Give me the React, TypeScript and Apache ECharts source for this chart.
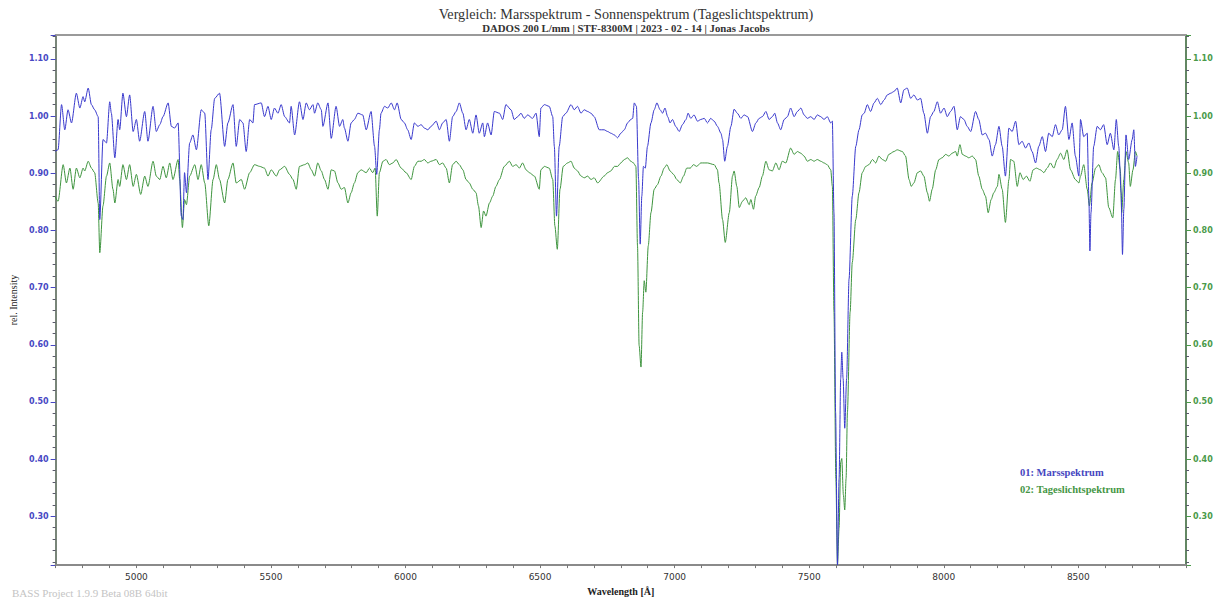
import React, { useEffect, useRef } from 'react';
import * as echarts from 'echarts';

const chartTitle = 'Vergleich: Marsspektrum - Sonnenspektrum (Tageslichtspektrum)';
const chartSubtitle = 'DADOS 200 L/mm | STF-8300M | 2023 - 02 - 14 | Jonas Jacobs';
const seriesNames = ['01: Marsspektrum', '02: Tageslichtspektrum'];
const xAxisName = 'Wavelength [Å]';
const yAxisName = 'rel. Intensity';
const footerText = 'BASS Project 1.9.9 Beta 08B 64bit';
const xRange = [4700, 8900];
const yRange = [0.2146, 1.1418];

// [wavelength (Å), relative intensity]
const marsSpectrum: [number, number][] = [
  [4697,0.938],[4709,0.941],[4722,1.020],[4734,0.976],[4746,1.011],[4759,0.988],[4777,1.040],[4790,1.014],[4802,1.034],[4808,1.025],
  [4821,1.049],[4833,1.020],[4845,1.011],[4858,0.999],[4864,0.819],[4876,0.959],[4889,0.953],[4901,1.025],[4907,1.005],[4920,0.927],
  [4932,0.994],[4938,0.976],[4950,1.040],[4963,0.999],[4975,1.037],[4988,0.973],[5000,0.994],[5012,0.956],[5031,1.008],[5043,0.956],
  [5062,1.017],[5074,0.973],[5087,0.985],[5099,0.999],[5118,1.023],[5130,0.982],[5142,0.979],[5155,0.988],[5167,0.825],[5173,0.819],
  [5179,0.901],[5186,0.866],[5198,0.953],[5210,0.967],[5223,0.941],[5241,1.011],[5254,1.005],[5266,0.889],[5278,0.976],[5291,1.031],
  [5309,1.040],[5328,0.947],[5340,0.988],[5359,1.020],[5371,0.947],[5384,0.994],[5396,0.988],[5408,0.938],[5421,0.994],[5433,0.988],
  [5439,1.020],[5464,1.023],[5476,0.999],[5489,1.017],[5501,0.994],[5513,1.014],[5526,1.005],[5538,1.020],[5551,0.999],[5569,0.988],
  [5575,1.017],[5588,0.967],[5606,1.025],[5619,0.994],[5631,1.023],[5643,1.011],[5656,1.020],[5662,1.005],[5674,1.023],[5687,1.011],
  [5693,0.982],[5712,1.023],[5724,0.961],
  [5742,1.017],[5755,0.982],[5767,0.994],[5773,0.979],[5786,0.956],[5798,0.988],[5810,0.994],[5823,1.005],[5841,1.002],[5854,0.976],
  [5872,1.008],[5885,0.947],[5893,0.898],[5903,0.976],[5909,1.005],[5922,1.017],[5934,1.014],[5947,1.023],[5959,1.011],[5969,1.023],
  [5984,0.994],[5996,0.988],[6008,0.976],[6021,0.959],[6033,0.988],[6046,0.982],[6058,0.985],[6070,0.979],[6083,0.976],[6095,0.982],
  [6114,0.991],[6126,0.976],[6138,0.988],[6151,0.994],[6163,0.956],[6175,0.999],[6188,1.008],[6200,1.023],[6213,1.005],[6225,0.976],
  [6237,0.994],[6250,0.970],[6262,1.002],[6274,0.970],[6287,0.988],[6293,0.964],[6305,0.988],[6318,0.967],[6330,1.008],[6349,1.005],
  [6361,0.994],[6373,1.020],[6392,1.011],[6404,0.994],[6417,0.999],[6429,1.005],[6441,0.996],[6454,1.002],[6472,0.996],[6485,1.005],
  [6497,0.964],[6503,1.014],[6516,1.020],[6534,1.017],[6547,0.999],[6553,0.947],[6561,0.825],[6571,0.947],[6584,0.999],[6596,1.005],
  [6615,1.020],[6627,1.011],[6639,1.017],[6652,1.005],[6664,1.011],[6677,1.008],[6689,1.005],[6701,0.999],[6720,0.976],
  [6738,0.976],[6751,0.973],[6763,0.970],[6776,0.967],[6788,0.962],[6800,0.970],[6813,0.976],[6825,0.988],[6837,0.994],[6844,0.996],
  [6850,1.023],[6858,1.017],[6866,0.889],[6872,0.776],[6878,0.860],[6884,0.912],[6891,0.909],[6899,0.947],[6912,0.988],[6924,1.011],
  [6934,1.023],[6946,1.011],[6955,1.005],[6964,1.014],[6974,0.999],[6983,0.988],[6992,0.994],[7004,0.982],[7017,0.973],[7029,0.985],
  [7042,0.994],[7050,1.005],[7060,0.996],[7072,1.002],[7085,0.991],
  [7097,0.994],[7110,0.996],[7122,0.988],[7134,0.996],[7147,0.991],[7159,0.982],[7172,0.970],[7178,0.959],[7186,0.921],[7196,0.947],
  [7209,0.982],[7221,1.012],[7233,1.005],[7246,0.996],[7258,1.002],[7271,0.999],[7289,0.973],[7302,0.988],[7314,0.996],[7326,0.999],
  [7339,1.008],[7351,0.994],[7363,0.999],[7372,1.005],[7382,0.988],[7394,0.976],[7407,0.994],[7419,0.999],[7431,1.014],[7444,0.999],
  [7456,1.008],[7469,1.014],[7481,1.002],[7493,0.996],[7506,0.999],[7518,0.994],[7530,1.002],[7543,0.999],[7555,0.994],[7567,0.999],
  [7580,0.988],[7586,0.991],[7592,0.831],[7598,0.482],[7605,0.215],[7611,0.366],[7617,0.541],[7621,0.587],[7626,0.541],[7632,0.454],
  [7639,0.541],[7648,0.715],[7660,0.860],[7673,0.947],[7685,0.976],[7697,1.002],
  [7704,1.005],[7716,1.020],[7728,1.008],[7741,1.023],[7753,1.031],[7766,1.020],[7778,1.028],[7790,1.037],[7803,1.040],[7815,1.043],
  [7827,1.049],[7840,1.023],[7852,1.046],[7864,1.049],[7877,1.031],[7889,1.037],[7902,1.028],[7914,1.031],[7926,1.005],[7939,0.970],
  [7951,0.999],[7963,1.008],[7976,1.025],[7988,1.005],[8001,1.014],[8013,0.999],[8025,1.008],[8038,1.017],[8050,0.976],[8062,0.999],
  [8075,0.994],[8087,0.982],[8100,0.973],[8118,1.008],[8130,0.994],[8143,0.967],[8155,0.970],[8168,0.959],[8180,0.930],[8192,0.950],
  [8205,0.982],[8217,0.947],[8229,0.895],[8242,0.979],[8254,0.973],[8267,0.991],[8279,0.950],[8291,0.956],[8304,0.944],[8316,0.953],
  [8328,0.938],[8341,0.918],[8353,0.947],[8366,0.964],[8378,0.938],[8390,0.970],[8403,0.964],[8415,0.985],[8427,0.967],[8440,0.976],
  [8452,1.017],[8465,0.959],[8477,0.988],[8489,0.930],[8502,0.895],[8508,0.994],[8520,0.964],[8533,0.970],[8539,0.860],[8543,0.764],
  [8547,0.831],[8557,0.947],[8570,0.982],[8582,0.976],[8594,0.985],[8607,0.950],[8619,0.970],[8632,0.941],[8641,0.994],[8650,0.947],
  [8659,0.866],[8664,0.758],[8669,0.837],[8677,0.967],[8687,0.924],[8700,0.959],[8706,0.976],[8712,0.912],[8718,0.930]
];

const daylightSpectrum: [number, number][] = [
  [4697,0.860],[4709,0.851],[4728,0.915],[4740,0.883],[4753,0.909],[4765,0.872],[4777,0.909],[4790,0.892],[4802,0.909],[4808,0.904],
  [4821,0.921],[4833,0.909],[4845,0.901],[4858,0.848],[4864,0.761],[4876,0.843],[4889,0.895],[4901,0.918],[4913,0.872],[4920,0.848],
  [4932,0.889],[4938,0.877],[4950,0.915],[4963,0.889],[4975,0.915],[4988,0.877],[5000,0.898],[5016,0.863],[5031,0.895],[5043,0.877],
  [5062,0.921],[5074,0.895],[5087,0.889],[5099,0.912],[5111,0.892],[5124,0.918],[5136,0.889],[5155,0.924],[5161,0.889],[5171,0.805],
  [5179,0.854],[5186,0.845],[5198,0.895],[5217,0.915],[5229,0.889],[5241,0.915],[5254,0.883],[5269,0.808],[5285,0.889],[5297,0.915],
  [5309,0.889],[5328,0.848],[5340,0.889],[5359,0.918],[5371,0.883],[5390,0.889],[5402,0.872],[5421,0.901],[5439,0.915],[5458,0.912],
  [5476,0.909],[5489,0.895],[5501,0.906],[5520,0.895],[5532,0.906],[5551,0.912],[5569,0.898],[5582,0.889],[5594,0.872],[5606,0.912],
  [5625,0.915],[5637,0.918],[5650,0.906],[5662,0.895],[5674,0.918],[5687,0.904],[5699,0.889],[5712,0.872],[5724,0.906],
  [5736,0.904],[5749,0.883],[5761,0.872],[5773,0.875],[5786,0.848],[5798,0.866],[5810,0.883],[5823,0.901],[5835,0.906],[5854,0.901],
  [5866,0.909],[5878,0.901],[5887,0.909],[5895,0.825],[5903,0.901],[5916,0.921],[5928,0.924],[5940,0.915],[5953,0.918],[5965,0.924],
  [5984,0.909],[6002,0.901],[6021,0.889],[6033,0.912],[6046,0.921],[6058,0.921],[6070,0.924],[6083,0.918],[6095,0.921],[6114,0.924],
  [6126,0.915],[6138,0.918],[6151,0.909],[6163,0.883],[6175,0.915],[6188,0.921],[6200,0.915],[6213,0.906],[6225,0.889],[6237,0.883],
  [6250,0.872],[6262,0.866],[6271,0.843],[6281,0.805],[6290,0.834],[6299,0.825],[6312,0.848],[6324,0.860],[6336,0.877],[6349,0.889],
  [6367,0.912],[6386,0.921],[6398,0.912],[6411,0.915],[6423,0.909],[6435,0.918],[6448,0.906],[6460,0.901],[6479,0.895],[6497,0.872],
  [6503,0.906],[6516,0.912],[6534,0.909],[6547,0.889],[6555,0.808],[6564,0.767],[6574,0.872],[6586,0.912],[6602,0.918],[6615,0.921],
  [6627,0.909],[6639,0.904],[6652,0.895],[6664,0.892],[6677,0.895],[6689,0.889],[6701,0.892],[6714,0.883],
  [6738,0.895],[6751,0.901],[6763,0.904],[6776,0.912],[6788,0.912],[6800,0.918],[6813,0.924],[6825,0.927],[6837,0.921],[6847,0.918],
  [6856,0.912],[6862,0.773],[6868,0.599],[6875,0.561],[6881,0.657],[6887,0.712],[6893,0.692],[6902,0.773],[6912,0.831],[6924,0.872],
  [6936,0.880],[6949,0.895],[6961,0.909],[6971,0.915],[6983,0.904],[6996,0.898],[7008,0.889],[7021,0.883],[7033,0.895],[7045,0.909],
  [7058,0.909],[7070,0.915],[7082,0.912],
  [7097,0.918],[7122,0.918],[7147,0.915],[7159,0.906],[7165,0.883],[7178,0.819],[7188,0.779],[7203,0.831],[7215,0.895],[7221,0.904],
  [7231,0.877],[7240,0.840],[7252,0.851],[7264,0.857],[7277,0.845],[7283,0.854],[7293,0.837],[7301,0.860],[7314,0.875],[7326,0.895],
  [7339,0.921],[7351,0.906],[7363,0.904],[7376,0.918],[7388,0.906],[7400,0.921],[7413,0.918],[7431,0.944],[7444,0.933],[7456,0.938],
  [7469,0.935],[7481,0.930],[7493,0.921],[7506,0.924],[7518,0.921],[7530,0.924],[7543,0.921],[7555,0.918],[7567,0.915],[7580,0.906],
  [7586,0.877],[7592,0.657],[7599,0.366],[7605,0.215],[7611,0.279],[7617,0.395],[7621,0.401],[7627,0.337],[7632,0.311],[7637,0.366],
  [7642,0.482],[7652,0.657],[7660,0.744],[7673,0.819],[7685,0.866],[7697,0.901],
  [7710,0.912],[7722,0.915],[7735,0.924],[7747,0.918],[7759,0.930],[7772,0.924],[7784,0.921],[7796,0.933],[7815,0.938],[7827,0.941],
  [7846,0.938],[7858,0.930],[7871,0.889],[7879,0.877],[7889,0.883],[7902,0.901],[7914,0.904],[7926,0.895],[7939,0.866],[7947,0.851],
  [7957,0.872],[7970,0.906],[7982,0.924],[7994,0.927],[8007,0.933],[8019,0.930],[8031,0.935],[8044,0.938],[8050,0.930],[8060,0.950],
  [8069,0.933],[8081,0.930],[8093,0.927],[8106,0.930],[8118,0.924],[8130,0.895],[8143,0.872],[8155,0.860],[8165,0.831],[8176,0.854],
  [8186,0.866],[8199,0.877],[8205,0.898],[8217,0.872],[8229,0.814],[8242,0.889],[8248,0.924],[8260,0.921],[8273,0.877],[8283,0.901],
  [8295,0.889],[8307,0.895],[8320,0.886],[8332,0.906],[8344,0.909],[8359,0.906],[8372,0.901],[8384,0.909],[8396,0.918],[8409,0.909],
  [8421,0.924],[8434,0.935],[8446,0.924],[8458,0.941],[8471,0.906],[8489,0.889],[8502,0.883],[8508,0.895],[8520,0.915],[8533,0.872],
  [8541,0.843],[8551,0.883],[8564,0.909],[8576,0.915],[8588,0.901],[8601,0.892],[8613,0.840],[8628,0.822],[8638,0.889],[8646,0.938],
  [8656,0.906],[8661,0.831],[8669,0.889],[8677,0.938],[8687,0.918],[8693,0.877],[8703,0.906],[8712,0.938],[8718,0.930]
];

const BLUE = '#3838cc';
const GREEN = '#3e943e';
const SERIF = '"Liberation Serif", "DejaVu Serif", serif';
const SANS = '"DejaVu Sans", Verdana, sans-serif';

const tenthLabel = (v: number) =>
  Math.abs(v * 10 - Math.round(v * 10)) < 1e-6 ? v.toFixed(2) : '';

function makeYAxis(side: 'left' | 'right', labelColor: string, lineColor: string, withName: boolean) {
  return {
    type: 'value',
    position: side,
    min: yRange[0],
    max: yRange[1],
    splitNumber: 9,
    name: withName ? yAxisName : '',
    nameLocation: 'middle',
    nameGap: 34,
    nameTextStyle: { fontFamily: SERIF, fontSize: 10, color: '#222' },
    axisLine: { show: true, lineStyle: { color: lineColor, width: 1.5 } },
    axisTick: { show: true, length: 5, lineStyle: { color: labelColor } },
    minorTick: { show: true, splitNumber: 5, length: 3, lineStyle: { color: '#5a5a6a' } },
    axisLabel: {
      formatter: tenthLabel,
      color: labelColor,
      fontFamily: SANS,
      fontSize: 8,
      fontWeight: 'bold',
      margin: 7,
    },
    splitLine: { show: false },
  };
}

export default function App() {
  const ref = useRef<HTMLDivElement>(null);

  useEffect(() => {
    if (!ref.current) return;
    const chart = echarts.init(ref.current, undefined, { renderer: 'svg' });
    const option = {
      animation: false,
      backgroundColor: '#ffffff',
      grid: { left: 54, right: 34, top: 35, bottom: 33 },
      xAxis: [
        {
          type: 'value',
          position: 'bottom',
          min: xRange[0],
          max: xRange[1],
          interval: 100,
          name: xAxisName,
          nameLocation: 'middle',
          nameGap: 18,
          nameTextStyle: { fontFamily: SERIF, fontSize: 10, fontWeight: 'bold', color: '#222' },
          axisLine: { lineStyle: { color: '#8a8a8a', width: 2 } },
          axisTick: { length: 3, lineStyle: { color: '#777' } },
          axisLabel: {
            formatter: (v: number) => (v % 500 === 0 ? String(v) : ''),
            color: '#333',
            fontFamily: SANS,
            fontSize: 9,
            margin: 7,
          },
          splitLine: { show: false },
        },
        {
          type: 'value',
          position: 'top',
          min: xRange[0],
          max: xRange[1],
          axisLine: { lineStyle: { color: '#9a9a9a', width: 2 } },
          axisTick: { show: false },
          axisLabel: { show: false },
          splitLine: { show: false },
        },
      ],
      yAxis: [
        makeYAxis('left', '#4848c4', '#4d5d4d', true),
        makeYAxis('right', '#4a9a4a', '#2f5f2f', false),
      ],
      series: [
        {
          name: seriesNames[1],
          type: 'line',
          xAxisIndex: 0,
          yAxisIndex: 1,
          data: daylightSpectrum,
          showSymbol: false,
          symbol: 'none',
          smooth: 0.25,
          smoothMonotone: 'x',
          lineStyle: { color: GREEN, width: 1 },
          itemStyle: { color: GREEN },
        },
        {
          name: seriesNames[0],
          type: 'line',
          xAxisIndex: 0,
          yAxisIndex: 0,
          data: marsSpectrum,
          showSymbol: false,
          symbol: 'none',
          smooth: 0.25,
          smoothMonotone: 'x',
          lineStyle: { color: BLUE, width: 1 },
          itemStyle: { color: BLUE },
        },
      ],
      graphic: [
        {
          type: 'text', x: 626, y: 14,
          style: { text: chartTitle, align: 'center', verticalAlign: 'middle', font: `14.2px ${SERIF}`, fill: '#333' },
        },
        {
          type: 'text', x: 626, y: 28,
          style: { text: chartSubtitle, align: 'center', verticalAlign: 'middle', font: `bold 10.8px ${SERIF}`, fill: '#333' },
        },
        {
          type: 'text', x: 1020, y: 472,
          style: { text: seriesNames[0], align: 'left', verticalAlign: 'middle', font: `bold 10.5px ${SERIF}`, fill: '#4545c0' },
        },
        {
          type: 'text', x: 1020, y: 489,
          style: { text: seriesNames[1], align: 'left', verticalAlign: 'middle', font: `bold 10.5px ${SERIF}`, fill: '#459645' },
        },
        {
          type: 'text', x: 12, y: 593,
          style: { text: footerText, align: 'left', verticalAlign: 'middle', font: `11px ${SERIF}`, fill: '#c4c4c4' },
        },
      ],
    };
    chart.setOption(option as any);
    return () => chart.dispose();
  }, []);

  return (
    <div
      ref={ref}
      style={{ position: 'absolute', left: 0, top: 0, width: 1220, height: 601, background: '#fff' }}
    />
  );
}
